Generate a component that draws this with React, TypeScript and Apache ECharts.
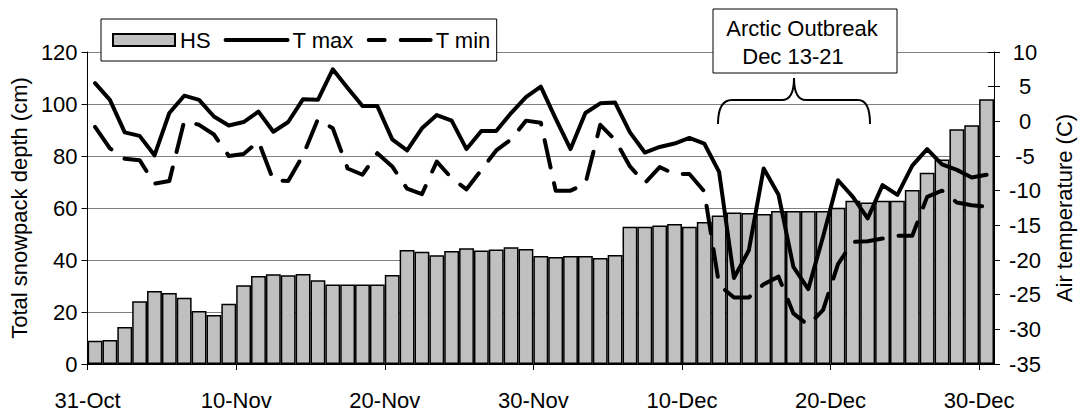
import React, { useEffect, useRef } from "react";
import * as echarts from "echarts";

const FONT = '"Liberation Sans", Arial, sans-serif';

// Categories: one per day, 31-Oct .. 30-Dec
const monthSpans: [string, number, number][] = [
  ["Oct", 31, 31],
  ["Nov", 1, 30],
  ["Dec", 1, 30],
];
const categories: string[] = [];
monthSpans.forEach(([m, a, b]) => {
  for (let d = a; d <= b; d++) categories.push(`${d}-${m}`);
});

const xTickLabels = ["31-Oct", "10-Nov", "20-Nov", "30-Nov", "10-Dec", "20-Dec", "30-Dec"];

// Total snowpack depth (cm)
const hs = [
  8.9, 9.2, 14.2, 24.1, 28.1, 27.3, 25.5, 20.4, 18.8, 23.2,
  30.3, 33.8, 34.5, 34.1, 34.6, 32.2, 30.6, 30.6, 30.6, 30.6,
  34.2, 43.8, 43.2, 41.8, 43.5, 44.5, 43.7, 44.0, 44.9, 44.2,
  41.5, 41.2, 41.5, 41.5, 40.8, 41.9, 52.8, 52.8, 53.3, 53.8,
  52.8, 54.6, 57.1, 58.3, 58.1, 57.7, 58.8, 58.8, 58.8, 58.8,
  60.1, 62.8, 62.1, 62.8, 62.8, 66.9, 73.6, 78.7, 90.3, 91.8,
  101.8,
];

// Air temperature (C)
const tMax = [
  5.5, 3.1, -1.6, -2.1, -4.9, 1.2, 3.7, 3.1, 0.7, -0.6,
  -0.1, 1.4, -1.5, -0.1, 3.2, 3.1, 7.5, 4.8, 2.2, 2.2,
  -2.6, -4.2, -1.0, 0.9, 0.1, -4.0, -1.4, -1.4, 1.2, 3.5,
  5.0, 0.4, -4.0, 1.2, 2.6, 2.7, -1.6, -4.5, -3.7, -3.2,
  -2.4, -3.2, -7.3, -22.6, -18.6, -6.8, -10.6, -21.0, -24.2, -16.6,
  -8.5, -10.9, -14.0, -9.2, -10.6, -6.4, -4.0, -6.2, -7.0, -8.1,
  -7.7,
];
const tMin = [
  -0.8, -3.9, -5.4, -5.6, -9.0, -8.6, 0.0, -0.5, -1.9, -5.0,
  -4.7, -2.9, -8.5, -8.6, -4.9, 0.3, -1.0, -6.8, -7.7, -4.6,
  -6.5, -9.7, -10.5, -5.8, -8.2, -9.8, -7.0, -4.2, -2.6, 0.1,
  -0.2, -10.0, -10.0, -9.0, -0.5, -2.7, -6.5, -8.9, -6.6, -7.6,
  -7.6, -10.1, -23.6, -25.4, -25.4, -23.5, -22.4, -27.7, -29.4, -27.2,
  -20.6, -17.4, -17.3, -16.9, -16.5, -16.5, -10.9, -10.0, -11.7, -12.1,
  -12.3,
];

const bracePath =
  "M718,124 C718,108 722,100 732,100 L782,100 C790,100 794,92 794,78 C794,92 798,100 806,100 L858,100 C866,100 870,108 870,124";

let registered = false;
function ensureShape() {
  if (registered) return;
  echarts.graphic.registerShape("brace", echarts.graphic.extendPath(bracePath, {}) as any);
  registered = true;
}

export default function App() {
  const ref = useRef<HTMLDivElement>(null);
  useEffect(() => {
    if (!ref.current) return;
    ensureShape();
    const chart = echarts.init(ref.current, undefined, { renderer: "svg" });
    const axisText = { fontSize: 22, color: "#000", fontFamily: FONT };
    chart.setOption({
      animation: false,
      backgroundColor: "#fff",
      textStyle: { fontFamily: FONT, color: "#000" },
      grid: { left: 87, top: 52, width: 909, height: 312 },
      legend: {
        left: 101,
        top: 19,
        padding: [10, 6, 10, 11],
        itemGap: 13,
        itemWidth: 62,
        itemHeight: 12,
        backgroundColor: "#fff",
        borderColor: "#000",
        borderWidth: 1,
        textStyle: { ...axisText },
        data: [
          { name: "HS", icon: "rect" },
          {
            name: "T max",
            itemStyle: { opacity: 0 },
            lineStyle: { width: 4, color: "#000", cap: "round" },
          },
          {
            name: "T min",
            itemStyle: { opacity: 0 },
            lineStyle: { width: 4, color: "#000", type: [34, 16], dashOffset: 18, cap: "round" },
          },
        ],
      },
      xAxis: [
        {
          type: "category",
          data: categories,
          boundaryGap: true,
          axisLine: { show: true, onZero: false, lineStyle: { color: "#000", width: 1 } },
          axisTick: { show: false },
          axisLabel: { show: false },
          splitLine: { show: false },
        },
        {
          type: "value",
          position: "bottom",
          min: 0,
          max: categories.length,
          interval: 10,
          axisLine: { show: false, onZero: false },
          axisTick: { show: true, length: 6, lineStyle: { color: "#000" } },
          axisLabel: {
            ...axisText,
            margin: 25,
            showMaxLabel: false,
            formatter: (v: number) => xTickLabels[Math.round(v / 10)] ?? "",
          },
          splitLine: { show: false },
        },
      ],
      yAxis: [
        {
          type: "value",
          min: 0,
          max: 120,
          interval: 20,
          name: "Total snowpack depth (cm)",
          nameLocation: "middle",
          nameRotate: 90,
          nameGap: 57,
          nameTextStyle: axisText,
          axisLine: { show: true, onZero: false, lineStyle: { color: "#000" } },
          axisTick: { show: true, length: 6, lineStyle: { color: "#000" } },
          axisLabel: { ...axisText, margin: 10 },
          splitLine: { show: true, lineStyle: { color: "#808080", width: 1 } },
        },
        {
          type: "value",
          position: "right",
          min: -35,
          max: 10,
          interval: 5,
          name: "Air temperature (C)",
          nameLocation: "middle",
          nameRotate: 90,
          nameGap: 59,
          nameTextStyle: axisText,
          axisLine: { show: true, onZero: false, lineStyle: { color: "#000" } },
          axisTick: { show: true, length: 6, lineStyle: { color: "#000" } },
          axisLabel: { ...axisText, margin: 31, align: "center" },
          splitLine: { show: false },
        },
        {
          type: "value",
          position: "right",
          min: -35,
          max: 10,
          interval: 5,
          axisLine: { show: false, onZero: false },
          axisTick: { show: true, inside: true, length: 6, lineStyle: { color: "#000" } },
          axisLabel: { show: false },
          splitLine: { show: false },
        },
      ],
      series: [
        {
          name: "HS",
          type: "bar",
          xAxisIndex: 0,
          yAxisIndex: 0,
          data: hs,
          barCategoryGap: "0%",
          itemStyle: { color: "#c0c0c0", borderColor: "#000", borderWidth: 1.5 },
          z: 2,
        },
        {
          name: "T max",
          type: "line",
          xAxisIndex: 0,
          yAxisIndex: 1,
          data: tMax,
          symbol: "none",
          itemStyle: { color: "#000" },
          lineStyle: { color: "#000", width: 4, join: "round", cap: "round" },
          z: 3,
        },
        {
          name: "T min",
          type: "line",
          xAxisIndex: 0,
          yAxisIndex: 1,
          data: tMin,
          symbol: "none",
          itemStyle: { color: "#000" },
          lineStyle: { color: "#000", width: 4, type: [28, 16], join: "round", cap: "round" },
          z: 3,
        },
      ],
      graphic: [
        {
          type: "brace",
          x: 0,
          y: 0,
          z: 100,
          style: { fill: "none", stroke: "#000", lineWidth: 2 },
        },
        {
          type: "rect",
          z: 100,
          shape: { x: 713, y: 9, width: 184, height: 64 },
          style: { fill: "#fff", stroke: "#000", lineWidth: 1 },
        },
        {
          type: "text",
          z: 101,
          x: 802,
          y: 28.5,
          style: {
            text: "Arctic Outbreak",
            font: `22px ${FONT}`,
            fill: "#000",
            align: "center",
            verticalAlign: "middle",
          },
        },
        {
          type: "text",
          z: 101,
          x: 793,
          y: 56,
          style: {
            text: "Dec 13-21",
            font: `22px ${FONT}`,
            fill: "#000",
            align: "center",
            verticalAlign: "middle",
          },
        },
      ],
    });
    return () => chart.dispose();
  }, []);
  return (
    <div
      ref={ref}
      style={{ position: "fixed", left: 0, top: 0, width: 1083, height: 413, background: "#fff" }}
    />
  );
}
